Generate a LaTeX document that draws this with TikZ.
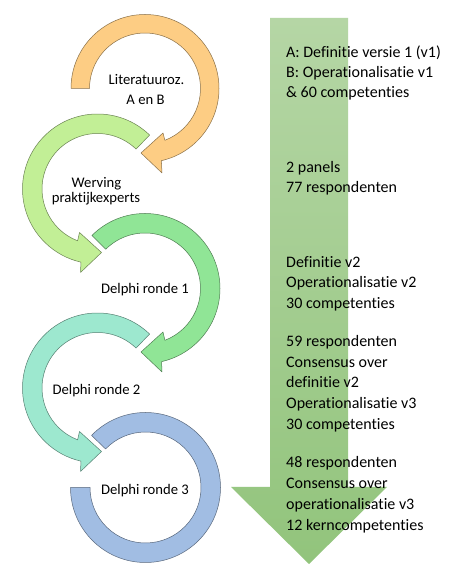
\documentclass[tikz,border=0pt]{standalone}
\usepackage{fontspec}
\setmainfont{Carlito}[Ligatures=NoCommon]
\begin{document}
\begin{tikzpicture}[x=1pt,y=1pt,
  ring/.style={line width=0.5pt, line join=round},
  rtext/.style={anchor=base west, inner sep=0pt, font=\fontsize{16}{20}\selectfont, text=black},
  ctext/.style={anchor=base, inner sep=0pt, font=\fontsize{14.67}{17}\selectfont, text=black}]
\definecolor{cA}{HTML}{FDCD84}
\definecolor{cB}{HTML}{C2EF96}
\definecolor{cC}{HTML}{90E596}
\definecolor{cD}{HTML}{9DE8CF}
\definecolor{cE}{HTML}{A1BDE3}
\definecolor{arTop}{HTML}{B5D6A5}
\definecolor{arBot}{HTML}{92C47C}
\fill[white] (0,0) rectangle (455,575);
\useasboundingbox (0,0) rectangle (455,575);
% big downward arrow
\shade[top color=arTop, bottom color=arBot]
  (270,557) -- (348,557) -- (348,88) -- (387,88) -- (309,11) -- (231,88) -- (270,88) -- cycle;
% ring 1
\begin{scope}[shift={(145,486.5)}]
\filldraw[ring, fill=cA, draw=cA!55!black]
  (180:74pt) arc[start angle=180, end angle=-77.25, radius=74pt]
  -- (17,-84.5) -- (-4,-64.5) -- (18,-44.5) -- (-69:55.5pt)
  arc[start angle=-69, end angle=180, radius=55.5pt] -- cycle;
\end{scope}
% ring 2
\begin{scope}[shift={(97.5,386)}]
\filldraw[ring, fill=cB, draw=cB!55!black]
  (46:75pt) arc[start angle=46, end angle=257.25, radius=75pt]
  -- (-17,-83.5) -- (4,-63.5) -- (-18,-43.5) -- (249:55.5pt)
  arc[start angle=249, end angle=46, radius=55.5pt] -- cycle;
\end{scope}
% ring 3
\begin{scope}[shift={(145,286.5)}]
\filldraw[ring, fill=cC, draw=cC!55!black]
  (135:75pt) arc[start angle=135, end angle=-77.25, radius=75pt]
  -- (17,-83.5) -- (-4,-63.5) -- (18,-43.5) -- (-69:55.5pt)
  arc[start angle=-69, end angle=135, radius=55.5pt] -- cycle;
\end{scope}
% ring 4
\begin{scope}[shift={(97.5,187)}]
\filldraw[ring, fill=cD, draw=cD!55!black]
  (46:75pt) arc[start angle=46, end angle=257.25, radius=75pt]
  -- (-17,-83.5) -- (4,-63.5) -- (-18,-43.5) -- (249:55.5pt)
  arc[start angle=249, end angle=46, radius=55.5pt] -- cycle;
\end{scope}
% ring 5
\begin{scope}[shift={(145.5,87.5)}]
\filldraw[ring, fill=cE, draw=cE!55!black]
  (180:75pt) arc[start angle=180, end angle=496, radius=75pt]
  -- (496:55.5pt) arc[start angle=496, end angle=180, radius=55.5pt] -- cycle;
\end{scope}
% circle labels
\node[ctext] (l1a) at (146.5,490) {Literatuuroz.};
\node[ctext] (l1b) at (145.5,470) {A en B};
\node[ctext] (l2a) at (96.5,387.5) {Werving};
\node[ctext] (l2b) at (96,372.5) {praktijkexperts};
\node[ctext] (l3) at (145,281) {Delphi ronde 1};
\node[ctext] (l4) at (96.5,180) {Delphi ronde 2};
\node[ctext] (l5) at (145,80) {Delphi ronde 3};
% right-hand texts
\foreach \t [count=\i] in {{A: Definitie versie 1 (v1)},{B: Operationalisatie v1},{\& 60 competenties}}
  \node[rtext] (ta\i) at (286,517.5-20*\i+20) {\t};
\foreach \t [count=\i] in {{2 panels},{77 respondenten}}
  \node[rtext] (tb\i) at (286,402.5-20*\i+20) {\t};
\foreach \t [count=\i] in {{Definitie v2},{Operationalisatie v2},{30 competenties}}
  \node[rtext] (tc\i) at (286,307.5-20.5*\i+20.5) {\t};
\foreach \t [count=\i] in {{59 respondenten},{Consensus over},{definitie v2},{Operationalisatie v3},{30 competenties}}
  \node[rtext] (td\i) at (286,228.5-20.75*\i+20.75) {\t};
\foreach \t [count=\i] in {{48 respondenten},{Consensus over},{operationalisatie v3},{12 kerncompetenties}}
  \node[rtext] (te\i) at (286,107.5-21*\i+21) {\t};
\end{tikzpicture}
\end{document}
